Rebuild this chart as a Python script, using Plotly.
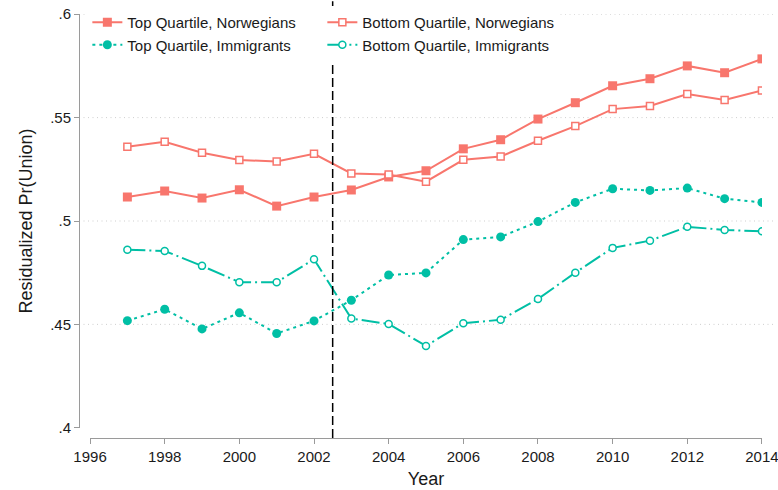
import plotly.graph_objects as go

years = list(range(1997, 2015))

top_norwegians = [0.5116, 0.5145, 0.5111, 0.5151, 0.5072, 0.5116, 0.5150, 0.5213, 0.5243,
                  0.5349, 0.5393, 0.5493, 0.5572, 0.5654, 0.5688, 0.5750, 0.5717, 0.5784]
bottom_norwegians = [0.5359, 0.5383, 0.5330, 0.5295, 0.5288, 0.5325, 0.5230, 0.5225, 0.5190,
                     0.5296, 0.5312, 0.5388, 0.5459, 0.5541, 0.5556, 0.5614, 0.5585, 0.5631]
top_immigrants = [0.4518, 0.4573, 0.4478, 0.4556, 0.4456, 0.4517, 0.4617, 0.4739, 0.4749,
                  0.4910, 0.4923, 0.4997, 0.5090, 0.5156, 0.5148, 0.5159, 0.5108, 0.5090]
bottom_immigrants = [0.4861, 0.4855, 0.4783, 0.4704, 0.4704, 0.4815, 0.4528, 0.4502, 0.4396,
                     0.4506, 0.4522, 0.4623, 0.4750, 0.4870, 0.4905, 0.4972, 0.4957, 0.4950]

x_ticks = list(range(1996, 2015, 2))
y_ticks = [0.4, 0.45, 0.5, 0.55, 0.6]
y_ticktext = [".4", ".45", ".5", ".55", ".6"]
grid_levels = [0.45, 0.5, 0.55, 0.6]
reform_year = 2002.5

SALMON = "#F8766D"
TEAL = "#00BFA5"

fig = go.Figure()
fig.add_trace(go.Scatter(
    x=years, y=top_norwegians, name="Top Quartile, Norwegians", mode="lines+markers",
    line=dict(color=SALMON, width=2),
    marker=dict(symbol="square", size=9, color=SALMON)))
fig.add_trace(go.Scatter(
    x=years, y=bottom_norwegians, name="Bottom Quartile, Norwegians", mode="lines+markers",
    line=dict(color=SALMON, width=2),
    marker=dict(symbol="square", size=7, color="white", line=dict(color=SALMON, width=1.5))))
fig.add_trace(go.Scatter(
    x=years, y=top_immigrants, name="Top Quartile, Immigrants", mode="lines+markers",
    line=dict(color=TEAL, width=2, dash="3px,4px"),
    marker=dict(symbol="circle", size=9, color=TEAL)))
fig.add_trace(go.Scatter(
    x=years, y=bottom_immigrants, name="Bottom Quartile, Immigrants", mode="lines+markers",
    line=dict(color=TEAL, width=2, dash="18px,4px,2px,4px"),
    marker=dict(symbol="circle", size=7, color="white", line=dict(color=TEAL, width=1.5))))

for g in grid_levels:
    fig.add_shape(type="line", xref="paper", yref="y", x0=0, x1=1, y0=g, y1=g,
                  line=dict(color="#cfcfcf", width=1, dash="1px,3.5px"), layer="below")

fig.add_shape(type="line", xref="x", yref="paper", x0=reform_year, x1=reform_year,
              y0=0, y1=1.03, line=dict(color="black", width=1.5, dash="9px,4px"))

axis_gray = "#9a9a9a"
fig.update_layout(
    width=778, height=490,
    margin=dict(l=79, r=3, t=14, b=52),
    plot_bgcolor="white", paper_bgcolor="white",
    font=dict(family="Liberation Sans, Arial, sans-serif", size=15, color="#1a1a1a"),
    xaxis=dict(domain=[0.0158, 0.9813], range=[1995.999, 2014.001], tickvals=x_ticks,
               showline=True, linecolor=axis_gray, linewidth=1,
               ticks="outside", ticklen=5, tickcolor=axis_gray, ticklabeloverflow="allow",
               showgrid=False, zeroline=False, anchor="free", position=0, automargin=False,
               title=dict(text="Year", font=dict(size=18), standoff=8)),
    yaxis=dict(domain=[0.0236, 1], range=[0.3999, 0.6001], tickvals=y_ticks, ticktext=y_ticktext,
               showline=True, linecolor=axis_gray, linewidth=1,
               ticks="outside", ticklen=5, tickcolor=axis_gray, ticklabeloverflow="allow",
               showgrid=False, zeroline=False, anchor="free", position=0, automargin=False,
               title=dict(text="Residualized Pr(Union)", font=dict(size=18), standoff=11)),
    legend=dict(orientation="h", x=0.012, y=1.019, xanchor="left", yanchor="top",
                bgcolor="white", font=dict(size=15),
                entrywidth=190, entrywidthmode="pixels", itemwidth=30),
    showlegend=True,
)

fig.write_html("out.html", config={"displayModeBar": False},
               post_script="document.body.style.margin='0px';document.body.style.overflow='hidden';")
